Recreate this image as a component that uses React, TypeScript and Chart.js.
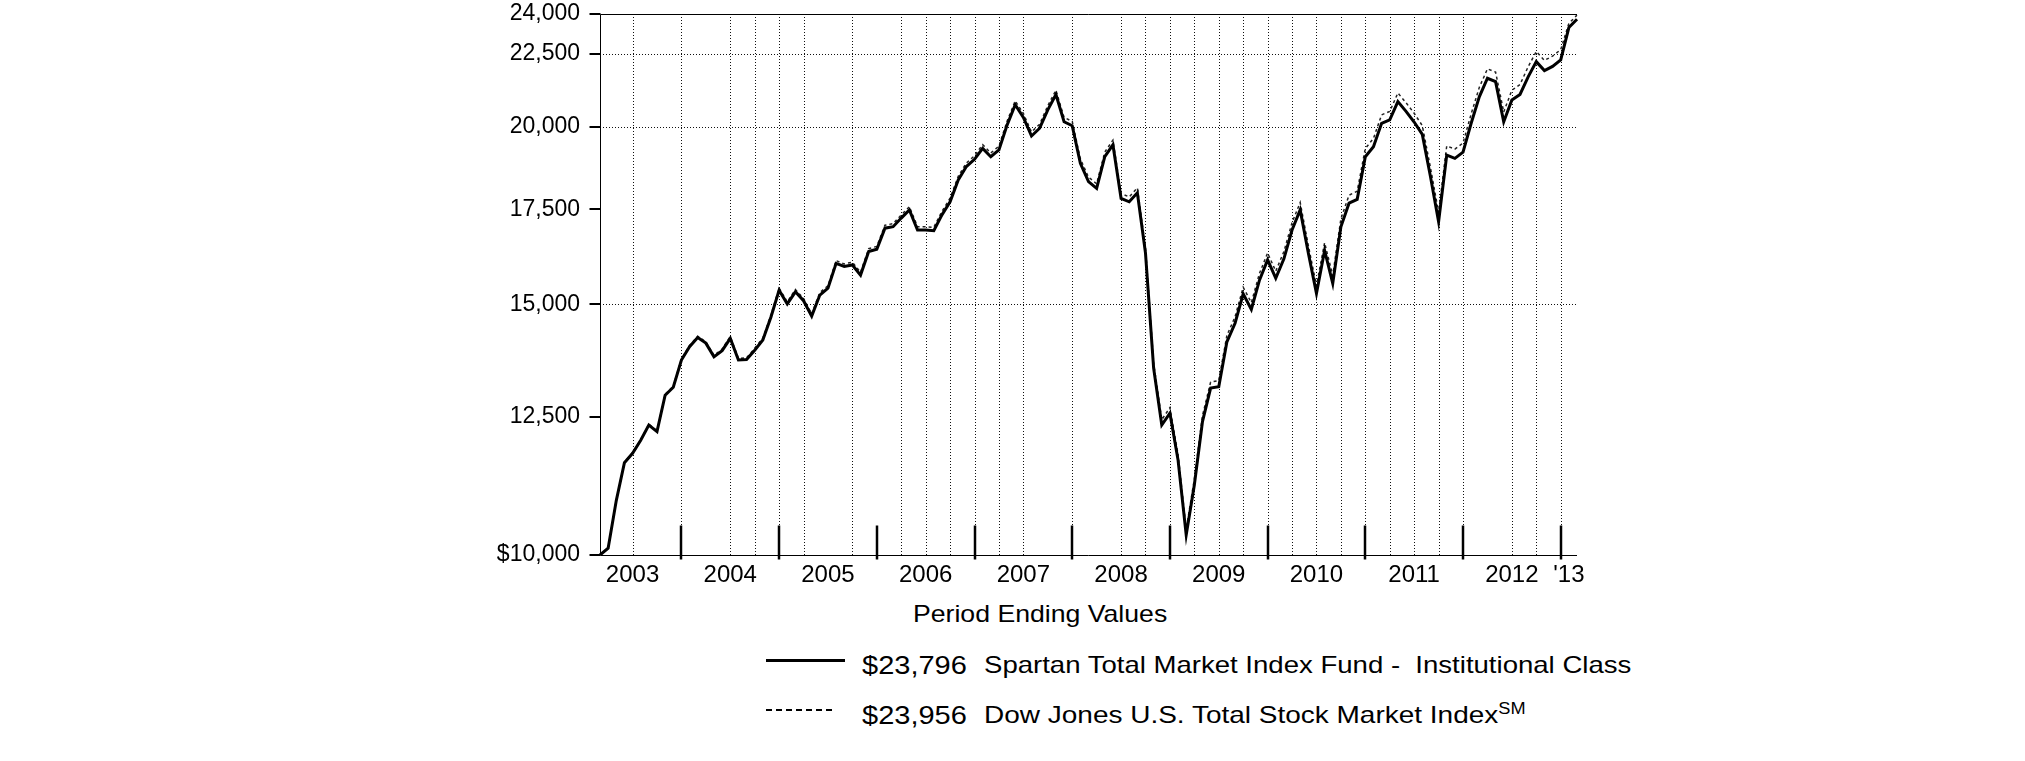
import React, { useEffect, useRef } from "react";
import { Chart, registerables } from "chart.js";

Chart.register(...registerables);

// ---- data ----
const monthNames = ["Jan", "Feb", "Mar", "Apr", "May", "Jun", "Jul", "Aug", "Sep", "Oct", "Nov", "Dec"];
const monthLabels: string[] = [];
for (let yr = 2003; yr <= 2013; yr++) {
  for (let mo = 0; mo < 12; mo++) {
    if ((yr === 2003 && mo < 1) || (yr === 2013 && mo > 1)) continue;
    monthLabels.push(`${monthNames[mo]} ${yr}`);
  }
}

// Spartan Total Market Index Fund - Institutional Class (monthly, Feb 2003 - Feb 2013)
const fundValues = [
  10000, 10110, 10920, 11610, 11790, 12040, 12340, 12210, 12950, 13120, 13710,
  14010, 14220, 14090, 13780, 13920, 14200, 13710, 13720, 13930, 14160, 14700, 15350,
  15010, 15310, 15090, 14720, 15230, 15400, 16030, 15950, 15990, 15730, 16340, 16400,
  16970, 17010, 17250, 17480, 16920, 16920, 16900, 17340, 17710, 18350, 18750, 18970,
  19310, 19050, 19260, 20050, 20720, 20300, 19700, 19950, 20550, 21070, 20160, 20030,
  18850, 18300, 18100, 19050, 19420, 17810, 17710, 17970, 16300, 13530, 12340, 12580,
  11660, 10330, 11200, 12410, 13100, 13130, 14120, 14550, 15260, 14880, 15600, 16120,
  15650, 16150, 16920, 17480, 16300, 15270, 16370, 15520, 17010, 17670, 17780, 19050,
  19360, 20110, 20220, 20830, 20500, 20150, 19750, 18450, 17150, 19100, 19000, 19190,
  20110, 20990, 21630, 21510, 20160, 20880, 21070, 21680, 22220, 21900, 22050, 22280,
  23480, 23796,
];

// Dow Jones U.S. Total Stock Market Index
const indexValues = [
  10000, 10110, 10925, 11618, 11800, 12052, 12355, 12225, 12968, 13140, 13732,
  14035, 14250, 14120, 13812, 13955, 14238, 13748, 13760, 13972, 14205, 14748, 15402,
  15062, 15365, 15146, 14776, 15290, 15462, 16100, 16018, 16062, 15802, 16416, 16478,
  17052, 17094, 17338, 17570, 17010, 17012, 16994, 17438, 17812, 18456, 18858, 19082,
  19426, 19166, 19380, 20176, 20852, 20432, 19830, 20082, 20690, 21216, 20302, 20172,
  18986, 18432, 18234, 19194, 19568, 17950, 17852, 18116, 16436, 13646, 12448, 12692,
  11766, 10426, 11306, 12530, 13228, 13262, 14266, 14702, 15424, 15044, 15774, 16302,
  15830, 16340, 17122, 17690, 16500, 15460, 16576, 15718, 17230, 17900, 18016, 19306,
  19624, 20386, 20500, 21120, 20790, 20438, 20034, 18718, 17404, 19386, 19286, 19480,
  20416, 21312, 21964, 21846, 20482, 21216, 21412, 22036, 22586, 22264, 22420, 22656,
  23636, 23956,
];

const yTickValues = [10000, 12500, 15000, 17500, 20000, 22500, 24000];
const yTickLabels = ["$10,000", "12,500", "15,000", "17,500", "20,000", "22,500", "24,000"];
const yGridValues = [15000, 20000, 22500];

const xLabelIndex = [4, 16, 28, 40, 52, 64, 76, 88, 100, 112, 119];
const xLabelText = ["2003", "2004", "2005", "2006", "2007", "2008", "2009", "2010", "2011", "2012", "'13"];
const yearTickIndex = [10, 22, 34, 46, 58, 70, 82, 94, 106, 118];
const quarterGridIndex = [4, 10, 16, 19, 22, 25, 31, 37, 40, 43, 46, 49, 52, 58, 64, 67, 70, 73, 76, 79, 82, 85, 88, 91, 94, 97, 100, 103, 106, 112, 115, 118];

const legendTitle = "Period Ending Values";
const legendValues = ["$23,796", "$23,956"];
const legendNames = ["Spartan Total Market Index Fund -  Institutional Class", "Dow Jones U.S. Total Stock Market Index"];

const FONT = "'Liberation Sans', Arial, Helvetica, sans-serif";

const framePlugin = {
  id: "frame",
  beforeDatasetsDraw(chart: any) {
    const { ctx, chartArea: a, scales } = chart;
    const xs = scales.x;
    const ys = scales.y;
    ctx.save();
    ctx.strokeStyle = "#111";
    ctx.lineWidth = 1;
    ctx.setLineDash([1, 2]);
    for (const i of quarterGridIndex) {
      const px = Math.round(xs.getPixelForValue(i)) + 0.5;
      ctx.beginPath();
      ctx.moveTo(px, a.top);
      ctx.lineTo(px, a.bottom);
      ctx.stroke();
    }
    for (const v of yGridValues) {
      const py = Math.round(ys.getPixelForValue(v)) + 0.5;
      ctx.beginPath();
      ctx.moveTo(a.left, py);
      ctx.lineTo(a.right, py);
      ctx.stroke();
    }
    ctx.restore();
  },
  afterDatasetsDraw(chart: any) {
    const { ctx, chartArea: a, scales } = chart;
    const xs = scales.x;
    const ys = scales.y;
    ctx.save();
    ctx.setLineDash([]);
    ctx.strokeStyle = "#000";
    ctx.lineWidth = 1;
    const L = Math.round(a.left) + 0.5;
    const T = Math.round(a.top) + 0.5;
    const B = Math.round(a.bottom) + 0.5;
    const R = Math.round(a.right);
    ctx.beginPath();
    ctx.moveTo(L, T);
    ctx.lineTo(L, B);
    ctx.moveTo(L, T);
    ctx.lineTo(R, T);
    ctx.moveTo(L, B);
    ctx.lineTo(R, B);
    ctx.stroke();
    // year ticks
    ctx.lineWidth = 2.5;
    for (const i of yearTickIndex) {
      const px = Math.round(xs.getPixelForValue(i));
      ctx.beginPath();
      ctx.moveTo(px, B - 30);
      ctx.lineTo(px, B + 4);
      ctx.stroke();
    }
    // y tick marks
    ctx.lineWidth = 2;
    for (const v of yTickValues) {
      const py = Math.round(ys.getPixelForValue(v));
      ctx.beginPath();
      ctx.moveTo(L - 11, py);
      ctx.lineTo(L, py);
      ctx.stroke();
    }
    ctx.restore();
  },
};

export default function App() {
  const canvasRef = useRef<HTMLCanvasElement | null>(null);

  useEffect(() => {
    const canvas = canvasRef.current;
    if (!canvas) return;
    const chart = new Chart(canvas, {
      type: "line",
      data: {
        labels: monthLabels,
        datasets: [
          {
            label: legendNames[0],
            data: fundValues,
            borderColor: "#000",
            borderWidth: 3,
            pointRadius: 0,
            tension: 0,
            fill: false,
          },
          {
            label: legendNames[1],
            data: indexValues,
            borderColor: "#222",
            borderWidth: 1.5,
            borderDash: [3, 3],
            pointRadius: 0,
            tension: 0,
            fill: false,
          },
        ],
      },
      options: {
        responsive: false,
        maintainAspectRatio: false,
        animation: false,
        devicePixelRatio: 1,
        events: [],
        layout: { padding: { left: 0, top: 14, right: 448, bottom: 0 } },
        plugins: {
          legend: { display: false },
          tooltip: { enabled: false },
          title: { display: false },
        },
        scales: {
          x: {
            type: "category",
            grid: { display: false, drawTicks: false },
            border: { display: false },
            afterFit: (s: any) => {
              s.height = 45;
              s.paddingLeft = 0;
              s.paddingRight = 0;
            },
            afterBuildTicks: (s: any) => {
              s.ticks = xLabelIndex.map((i) => ({ value: i }));
            },
            ticks: {
              autoSkip: false,
              maxRotation: 0,
              minRotation: 0,
              padding: 6,
              color: "#000",
              font: { family: FONT, size: 24 },
              callback: (v: any) => {
                const k = xLabelIndex.indexOf(Number(v));
                return k >= 0 ? xLabelText[k] : "";
              },
            },
          },
          y: {
            type: "logarithmic",
            min: 10000,
            max: 24000,
            grid: { display: false, drawTicks: false },
            border: { display: false },
            afterFit: (s: any) => {
              s.width = 600;
              s.paddingTop = 0;
              s.paddingBottom = 0;
            },
            afterBuildTicks: (s: any) => {
              s.ticks = yTickValues.map((v) => ({ value: v }));
            },
            ticks: {
              padding: 20,
              color: "#000",
              font: { family: FONT, size: 23 },
              callback: (v: any) => {
                const k = yTickValues.indexOf(Number(v));
                return k >= 0 ? yTickLabels[k] : "";
              },
            },
          },
        },
      },
      plugins: [framePlugin],
    });
    return () => chart.destroy();
  }, []);

  const textBase: React.CSSProperties = {
    position: "absolute",
    fontFamily: FONT,
    color: "#000",
    whiteSpace: "pre",
    transformOrigin: "0 0",
    lineHeight: 1,
  };

  return (
    <div style={{ position: "absolute", left: 0, top: 0, width: 2025, height: 761, overflow: "hidden", background: "#fff" }}>
      <canvas ref={canvasRef} width={2025} height={600} style={{ position: "absolute", left: 0, top: 0, width: 2025, height: 600 }} />
      <div style={{ ...textBase, left: 913, top: 602, fontSize: 24, transform: "scaleX(1.11)" }}>{legendTitle}</div>

      <div style={{ position: "absolute", left: 766, top: 659, width: 79, height: 3, background: "#000" }} />
      <div style={{ ...textBase, left: 862, top: 653, fontSize: 25, transform: "scaleX(1.16)" }}>{legendValues[0]}</div>
      <div style={{ ...textBase, left: 984, top: 653, fontSize: 24, transform: "scaleX(1.148)" }}>{legendNames[0]}</div>

      <div
        style={{
          position: "absolute",
          left: 766,
          top: 709,
          width: 70,
          height: 2,
          background: "repeating-linear-gradient(to right, #000 0px, #000 6px, transparent 6px, transparent 10px)",
        }}
      />
      <div style={{ ...textBase, left: 862, top: 703, fontSize: 25, transform: "scaleX(1.16)" }}>{legendValues[1]}</div>
      <div style={{ ...textBase, left: 984, top: 703, fontSize: 24, transform: "scaleX(1.166)" }}>
        {legendNames[1]}
        <sup style={{ fontSize: "0.65em", verticalAlign: "0.55em", lineHeight: 0 }}>SM</sup>
      </div>
    </div>
  );
}
